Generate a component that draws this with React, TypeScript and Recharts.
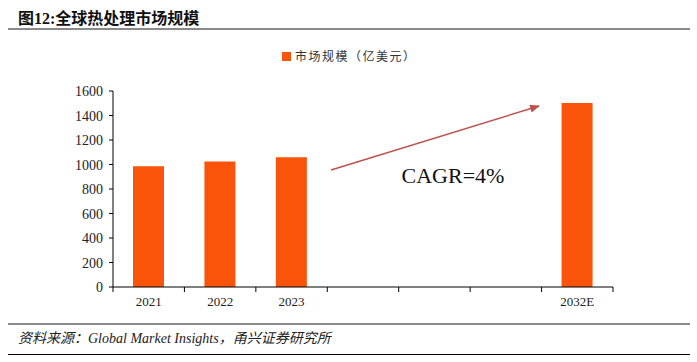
import { BarChart, Bar, XAxis, YAxis } from "recharts";

const years = ["2021", "2022", "2023", "", "", "", "2032E"];
const marketSize: (number | null)[] = [986, 1024, 1059, null, null, null, 1502];
const yTicks = [0, 200, 400, 600, 800, 1000, 1200, 1400, 1600];

const chartData = years.map((year, i) => ({ year, size: marketSize[i] }));

const W = 697;
const H = 362;
const PLOT_LEFT = 113;
const PLOT_RIGHT = 613;
const BAND = (PLOT_RIGHT - PLOT_LEFT) / years.length;

const serif = '"Liberation Serif", "Times New Roman", serif';
const cjk = '"Liberation Serif", "Noto Sans CJK SC", serif';

function XTick(props: any) {
  const { x, y, payload, index } = props;
  const left = x - BAND / 2;
  const right = x + BAND / 2;
  return (
    <g>
      <line x1={left} y1={y - 8} x2={left} y2={y - 3} stroke="#000" />
      {index === years.length - 1 && (
        <line x1={right} y1={y - 8} x2={right} y2={y - 3} stroke="#000" />
      )}
      <text x={x} y={y + 11} textAnchor="middle" fontSize={13} fontFamily={serif} fill="#222">
        {payload.value}
      </text>
    </g>
  );
}

function YTick(props: any) {
  const { y, payload } = props;
  return (
    <g>
      <line x1={PLOT_LEFT - 4} y1={y} x2={PLOT_LEFT} y2={y} stroke="#000" />
      <text x={PLOT_LEFT - 10} y={y + 5} textAnchor="end" fontSize={14} fontFamily={serif} fill="#222">
        {payload.value}
      </text>
    </g>
  );
}

export default function App() {
  return (
    <div style={{ position: "absolute", left: 0, top: 0, width: W, height: H, background: "#fff" }}>
      <div
        style={{
          position: "absolute",
          left: 18,
          top: 5,
          fontSize: 16,
          fontWeight: "bold",
          fontFamily: cjk,
          color: "#111",
        }}
      >
        图12:全球热处理市场规模
      </div>
      <div style={{ position: "absolute", left: 8, top: 28, width: 682, height: 2, background: "#8a8a8a" }} />

      {/* legend */}
      <div
        style={{
          position: "absolute",
          left: 282,
          top: 47,
          display: "flex",
          alignItems: "center",
          fontSize: 12,
          color: "#333",
          fontFamily: cjk,
        }}
      >
        <span style={{ width: 9, height: 9, background: "#F95409", display: "inline-block", marginRight: 4 }} />
        <span style={{ letterSpacing: 1.5 }}>市场规模（亿美元）</span>
      </div>

      <BarChart
        width={W}
        height={H}
        data={chartData}
        margin={{ top: 91, right: W - PLOT_RIGHT, left: 0, bottom: 45 }}
        barCategoryGap={0}
      >
        <XAxis
          dataKey="year"
          axisLine={{ stroke: "#000" }}
          tickLine={false}
          interval={0}
          height={30}
          tick={<XTick />}
        />
        <YAxis
          domain={[0, 1600]}
          ticks={yTicks}
          width={PLOT_LEFT}
          axisLine={{ stroke: "#000" }}
          tickLine={false}
          tick={<YTick />}
        />
        <Bar dataKey="size" fill="#F95409" barSize={31} isAnimationActive={false} />
      </BarChart>

      <svg
        width={W}
        height={H}
        style={{ position: "absolute", left: 0, top: 0, pointerEvents: "none" }}
      >
        <defs>
          <marker id="arrow" markerWidth="10" markerHeight="8" refX="9" refY="4" orient="auto" markerUnits="userSpaceOnUse">
            <path d="M0,0 L10,4 L0,8 z" fill="#C0504D" />
          </marker>
        </defs>
        <line x1={331} y1={170} x2={539} y2={106} stroke="#C0504D" strokeWidth={1.5} markerEnd="url(#arrow)" />
        <text x={453} y={183} textAnchor="middle" fontSize={22} fontFamily={serif} fill="#111">
          CAGR=4%
        </text>
      </svg>

      <div style={{ position: "absolute", left: 8, top: 323, width: 682, height: 2, background: "#8a8a8a" }} />
      <div
        style={{
          position: "absolute",
          left: 18,
          top: 327,
          fontSize: 14,
          fontStyle: "italic",
          fontFamily: cjk,
          color: "#222",
          whiteSpace: "nowrap",
        }}
      >
        资料来源：Global Market Insights，甬兴证券研究所
      </div>
      <div style={{ position: "absolute", left: 8, top: 354, width: 682, height: 1, background: "#000" }} />
    </div>
  );
}
